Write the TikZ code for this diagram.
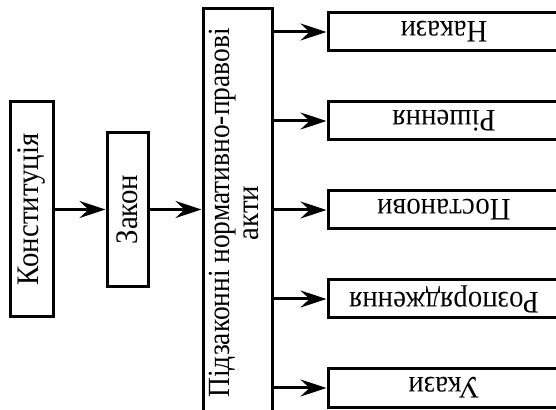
\documentclass[tikz,border=0pt]{standalone}
\usepackage{fontspec}
\newfontfamily\boxfont{Liberation Serif}
\usetikzlibrary{arrows.meta}
% glyphs set slightly taller than wide
\newcommand{\tallbox}[1]{\scalebox{1.03}[1.12]{#1}}
\begin{document}
\begin{tikzpicture}[x=1pt,y=1pt,
  box/.style={draw, line width=3pt, inner sep=0pt, align=center,
    font=\boxfont\fontsize{28}{31}\selectfont},
  arr/.style={line width=3pt, -{Stealth[length=26pt,width=17pt,inset=9pt]}}]
\useasboundingbox (0,0) rectangle (556,409);
\clip (0,0) rectangle (556,409);
% left chain
\node[box, minimum width=43pt, minimum height=215pt] (konst) at (31.5,199.5)
  {\rotatebox{90}{\tallbox{Конституція}}};
\node[box, minimum width=41pt, minimum height=154pt] (zakon) at (127.5,199.5)
  {\rotatebox{90}{\tallbox{Закон}}};
\node[box, minimum width=69pt, minimum height=408pt] (pidz) at (237.5,196)
  {\rotatebox{90}{\begin{tabular}{@{}c@{}}\scalebox{0.98}[1.1]{Підзаконні нормативно-правові}\\[-2pt]\tallbox{акти}\end{tabular}}};
% kinds of by-laws
\foreach \n/\y/\t in {r1/377/Накази, r2/288/Рішення, r3/199/Постанови,
                      r4/110/Розпорядження, r5/21/Укази}{
  \node[box, minimum width=232pt, minimum height=38pt] (\n) at (444,\y)
    {\rotatebox{180}{\tallbox{\t}}};
}
% connectors
\draw[arr] (konst.east) -- (zakon.west);
\draw[arr] (zakon.east) -- (zakon.east -| pidz.west);
\foreach \n in {r1,r2,r3,r4,r5}{
  \draw[arr] (pidz.east |- \n.west) -- (\n.west);
}
\end{tikzpicture}
\end{document}
